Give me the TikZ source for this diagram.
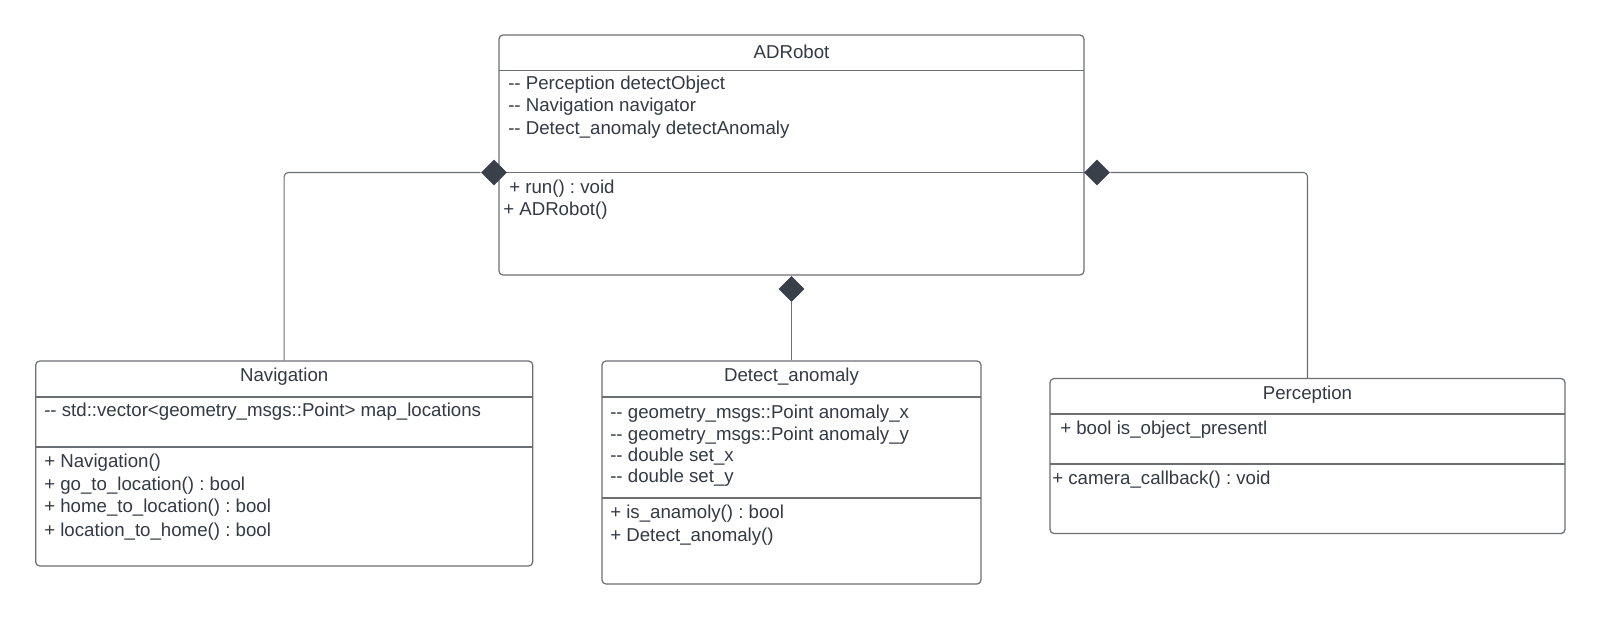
\documentclass[tikz,border=0pt]{standalone}
\usepackage{fontspec}
\setmainfont{Liberation Sans}
\usetikzlibrary{shapes.geometric}
\frenchspacing
\definecolor{ink}{HTML}{333A45}
\definecolor{edgegray}{HTML}{6B6E73}
\definecolor{diamfill}{HTML}{3A404A}
\tikzset{
  classbox/.style={draw=edgegray, line width=0.9pt, rounded corners=3pt, inner sep=0pt, fill=white},
  rule/.style={draw=edgegray, line width=0.9pt},
  classname/.style={text=ink, font=\fontsize{14}{16}\selectfont, inner sep=0pt, text height=10.5pt, text depth=1pt},
  member/.style={text=ink, font=\fontsize{14}{16}\selectfont, anchor=west, inner sep=0pt, text height=10.5pt, text depth=1pt},
  link/.style={draw=edgegray, line width=0.8pt, rounded corners=3pt},
  compo/.style={diamond, fill=diamfill, draw=none, minimum width=19.5pt, minimum height=19.5pt, inner sep=0pt},
}
\begin{document}
\begin{tikzpicture}[x=0.75pt,y=-0.75pt]
\useasboundingbox (0,0) rectangle (1600,619);

% ---------- ADRobot ----------
\node[classbox, minimum width=438.75pt, minimum height=180pt] (adr) at (791.5,155) {};
\draw[rule] (499,70.4) -- (1084,70.4);
\draw[rule] (499,172.5) -- (1084,172.5);
\node[classname] (adrT) at (791.5,52.5) {ADRobot};
\node[member] (adrA1) at (508,82.7) {-{}- Perception detectObject};
\node[member] (adrA2) at (508,105) {-{}- Navigation navigator};
\node[member] (adrA3) at (508,128.6) {-{}- Detect\_anomaly detectAnomaly};
\node[member] (adrM1) at (509,186.7) {+ run() : void};
\node[member] (adrM2) at (503,209) {+ ADRobot()};

% ---------- Navigation ----------
\node[classbox, minimum width=372.75pt, minimum height=153.75pt] (nav) at (284.2,463.5) {};
\draw[rule] (35.7,397) -- (532.7,397);
\draw[rule] (35.7,447) -- (532.7,447);
\node[classname] (navT) at (284.2,375.5) {Navigation};
\node[member] (navA1) at (44,410) {-{}- std::vector<geometry\_msgs::Point> map\_locations};
\node[member] (navM1) at (44,461) {+ Navigation()};
\node[member] (navM2) at (44,484) {+ go\_to\_location() : bool};
\node[member] (navM3) at (44,506) {+ home\_to\_location() : bool};
\node[member] (navM4) at (44,530) {+ location\_to\_home() : bool};

% ---------- Detect_anomaly ----------
\node[classbox, minimum width=284.25pt, minimum height=167.25pt] (det) at (791.5,472.5) {};
\draw[rule] (602,397) -- (981,397);
\draw[rule] (602,498) -- (981,498);
\node[classname] (detT) at (791.5,375.5) {Detect\_anomaly};
\node[member] (detA1) at (610,412) {-{}- geometry\_msgs::Point anomaly\_x};
\node[member] (detA2) at (610,434) {-{}- geometry\_msgs::Point anomaly\_y};
\node[member] (detA3) at (610,455) {-{}- double set\_x};
\node[member] (detA4) at (610,476.5) {-{}- double set\_y};
\node[member] (detM1) at (610,512) {+ is\_anamoly() : bool};
\node[member] (detM2) at (610,535) {+ Detect\_anomaly()};

% ---------- Perception ----------
\node[classbox, minimum width=386.25pt, minimum height=116.25pt] (per) at (1307.5,456) {};
\draw[rule] (1050,414) -- (1565,414);
\draw[rule] (1050,464) -- (1565,464);
\node[classname] (perT) at (1307.5,393) {Perception};
\node[member] (perA1) at (1060,428.6) {+ bool is\_object\_presentl};
\node[member] (perM1) at (1052,478.6) {+ camera\_callback() : void};

% ---------- composition links ----------
\node[compo] (dl) at (494,172.5) {};
\node[compo] (dr) at (1097,172.5) {};
\node[compo] (db) at (791.5,289) {};
\draw[link] (dl.west) -| (nav.north);
\draw[link] (dr.east) -| (per.north);
\draw[link] (db.south) -- (det.north);
\end{tikzpicture}
\end{document}
